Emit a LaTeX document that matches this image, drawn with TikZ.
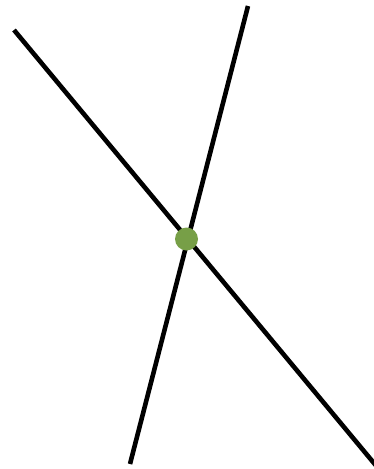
\documentclass[tikz,border=0pt]{standalone}
\usepackage{xcolor}
\usepackage{tikz}
\usetikzlibrary{positioning,calc}
\definecolor{dotgreen}{RGB}{119,159,71}

\begin{document}
\begin{tikzpicture}[x=1pt,y=-1pt,
        ln/.style={black, line width=4.6pt},
        dot/.style={circle, fill=dotgreen, inner sep=0pt, minimum size=23pt}
      ]
        \useasboundingbox (0,0) rectangle (373,469);
        \coordinate (a1) at (14,30);
        \coordinate (a2) at (378,468);
        \coordinate (b1) at (248,6);
        \coordinate (b2) at (130,464);
        \draw[ln] (a1) -- (a2);
        \draw[ln] (b1) -- (b2);
        \node[dot] (m) at (186.5,239) {};
      \end{tikzpicture}
\end{document}
